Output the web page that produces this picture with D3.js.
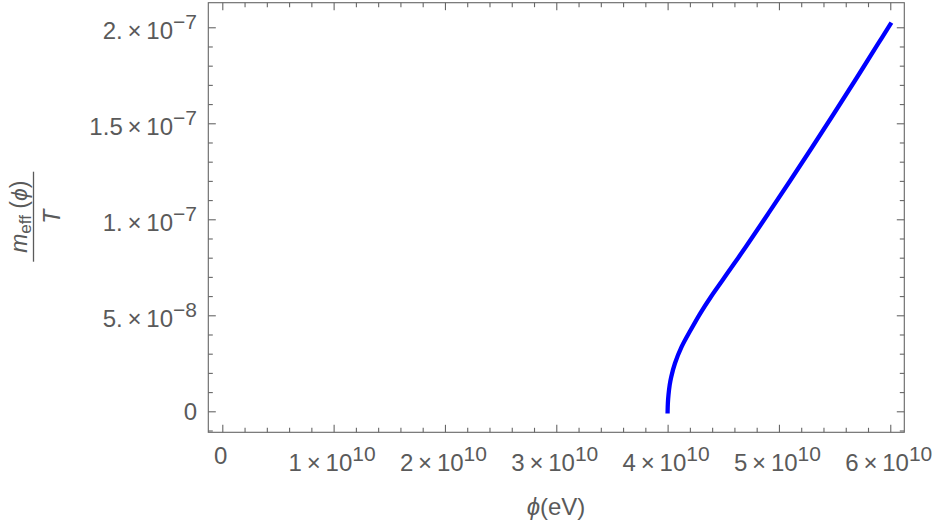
<!DOCTYPE html>
<html>
<head>
<meta charset="utf-8">
<script src="https://cdn.jsdelivr.net/npm/d3@7"></script>
<style>
  html, body { margin: 0; padding: 0; background: #fff; }
  svg { display: block; }
  text { font-family: "Liberation Sans", Arial, sans-serif; fill: #5a5a5a; }
</style>
</head>
<body>
<svg id="chart" width="937" height="522"></svg>
<script>
// ---- data ----
const phiValues = [4.0000e10, 4.0024e10, 4.0078e10, 4.0186e10, 4.0329e10, 4.0662e10, 4.1263e10,
                   4.2072e10, 4.2934e10, 4.3895e10, 4.4946e10, 4.5997e10, 4.7030e10, 4.9015e10,
                   5.0991e10, 5.2967e10, 5.4943e10, 5.6919e10, 5.8895e10, 6.0000e10];
const mEffValues = [0, 0.432e-8, 0.849e-8, 1.370e-8, 1.802e-8, 2.500e-8, 3.365e-8,
                    4.234e-8, 5.104e-8, 5.969e-8, 6.839e-8, 7.708e-8, 8.573e-8, 10.276e-8,
                    11.995e-8, 13.740e-8, 15.510e-8, 17.307e-8, 19.130e-8, 20.146e-8];

// axis ranges & ticks
const xDomain = [-0.1257e10, 6.126e10];
const yDomain = [-1.094e-8, 21.28e-8];
const xMajorTicks = [0, 1e10, 2e10, 3e10, 4e10, 5e10, 6e10];
const xTickLabels = ["0", "1×10^10", "2×10^10", "3×10^10", "4×10^10", "5×10^10", "6×10^10"];
const xMinorTicks = [0.2e10,0.4e10,0.6e10,0.8e10,1.2e10,1.4e10,1.6e10,1.8e10,2.2e10,2.4e10,2.6e10,2.8e10,
                     3.2e10,3.4e10,3.6e10,3.8e10,4.2e10,4.4e10,4.6e10,4.8e10,5.2e10,5.4e10,5.6e10,5.8e10];
const yMajorTicks = [0, 5e-8, 1e-7, 1.5e-7, 2e-7];
const yTickLabels = ["0", "5.×10^−8", "1.×10^−7", "1.5×10^−7", "2.×10^−7"];
const yMinorTicks = [-1e-8,1e-8,2e-8,3e-8,4e-8,6e-8,7e-8,8e-8,9e-8,11e-8,12e-8,13e-8,14e-8,
                     16e-8,17e-8,18e-8,19e-8];
const xTitle = "(eV)";

// ---- layout ----
const svg = d3.select("#chart");
const pLeft = 208.3, pRight = 904.3, pTop = 2.7, pBottom = 432.3;
const frameColor = "#666666";

const x = d3.scaleLinear().domain(xDomain).range([pLeft, pRight]);
const y = d3.scaleLinear().domain(yDomain).range([pBottom, pTop]);

// frame
svg.append("rect")
  .attr("x", pLeft).attr("y", pTop)
  .attr("width", pRight - pLeft).attr("height", pBottom - pTop)
  .attr("fill", "none").attr("stroke", frameColor).attr("stroke-width", 1.1);

function styleAxis(g) {
  g.select(".domain").remove();
  g.selectAll(".tick line").attr("stroke", frameColor).attr("stroke-width", 1.1);
  g.selectAll(".tick text").remove();
}
const MAJ = 7.5, MIN = 4.5;
[[xMajorTicks, MAJ], [xMinorTicks, MIN]].forEach(([vals, len]) => {
  svg.append("g").attr("transform", `translate(0,${pBottom})`)
    .call(d3.axisBottom(x).tickValues(vals).tickSizeInner(-len).tickSizeOuter(0).tickFormat(""))
    .call(styleAxis);
  svg.append("g").attr("transform", `translate(0,${pTop})`)
    .call(d3.axisTop(x).tickValues(vals).tickSizeInner(-len).tickSizeOuter(0).tickFormat(""))
    .call(styleAxis);
});
[[yMajorTicks, MAJ], [yMinorTicks, MIN]].forEach(([vals, len]) => {
  svg.append("g").attr("transform", `translate(${pLeft},0)`)
    .call(d3.axisLeft(y).tickValues(vals).tickSizeInner(-len).tickSizeOuter(0).tickFormat(""))
    .call(styleAxis);
  svg.append("g").attr("transform", `translate(${pRight},0)`)
    .call(d3.axisRight(y).tickValues(vals).tickSizeInner(-len).tickSizeOuter(0).tickFormat(""))
    .call(styleAxis);
});

// tick labels with superscripts
function writeLabel(sel, label) {
  const parts = label.split("^");
  const base = parts[0].replace("×", "\u2009×\u2009");
  sel.append("tspan").text(base);
  if (parts.length > 1) {
    sel.append("tspan").attr("font-size", 21).attr("dy", -10).text(parts[1]);
  }
}
const FS = 24;
xMajorTicks.forEach((v, i) => {
  const lab = xTickLabels[i];
  const t = svg.append("text")
    .attr("x", x(v) - 1.5)
    .attr("y", lab.includes("^") ? 470.5 : 464)
    .attr("text-anchor", "middle")
    .attr("font-size", FS);
  writeLabel(t, lab);
});
yMajorTicks.forEach((v, i) => {
  const lab = yTickLabels[i];
  const t = svg.append("text")
    .attr("x", 197)
    .attr("y", y(v) + (lab.includes("^") ? 12 : 8.7))
    .attr("text-anchor", "end")
    .attr("font-size", FS);
  writeLabel(t, lab);
});

// x-axis title
const xt = svg.append("text").attr("x", 556).attr("y", 515)
  .attr("text-anchor", "middle").attr("font-size", FS);
xt.append("tspan").attr("font-style", "italic").text("ϕ");
xt.append("tspan").text(xTitle);

// y-axis title (fraction), rotated
const yt = svg.append("g").attr("transform", "translate(33.5,216.7) rotate(-90)");
yt.append("line").attr("x1", -45).attr("x2", 45).attr("y1", 0).attr("y2", 0)
  .attr("stroke", "#5a5a5a").attr("stroke-width", 1.3);
const num = yt.append("text").attr("x", 0).attr("y", -7).attr("text-anchor", "middle").attr("font-size", 23);
num.append("tspan").attr("font-style", "italic").text("m");
num.append("tspan").attr("font-size", 17).attr("dy", 4).text("eff");
num.append("tspan").attr("dy", -4).text(" (");
num.append("tspan").attr("font-style", "italic").text("ϕ");
num.append("tspan").text(")");
yt.append("text").attr("x", 0).attr("y", 26).attr("text-anchor", "middle")
  .attr("font-size", 23).attr("font-style", "italic").text("T");

// curve
const pts = phiValues.map((p, i) => [p, mEffValues[i]]);
const line = d3.line().x(d => x(d[0])).y(d => y(d[1])).curve(d3.curveCatmullRom.alpha(0.5));
svg.append("path").datum(pts)
  .attr("d", line)
  .attr("fill", "none")
  .attr("stroke", "#0000ff")
  .attr("stroke-width", 4.3)
  .attr("stroke-linecap", "square");
</script>
</body>
</html>
